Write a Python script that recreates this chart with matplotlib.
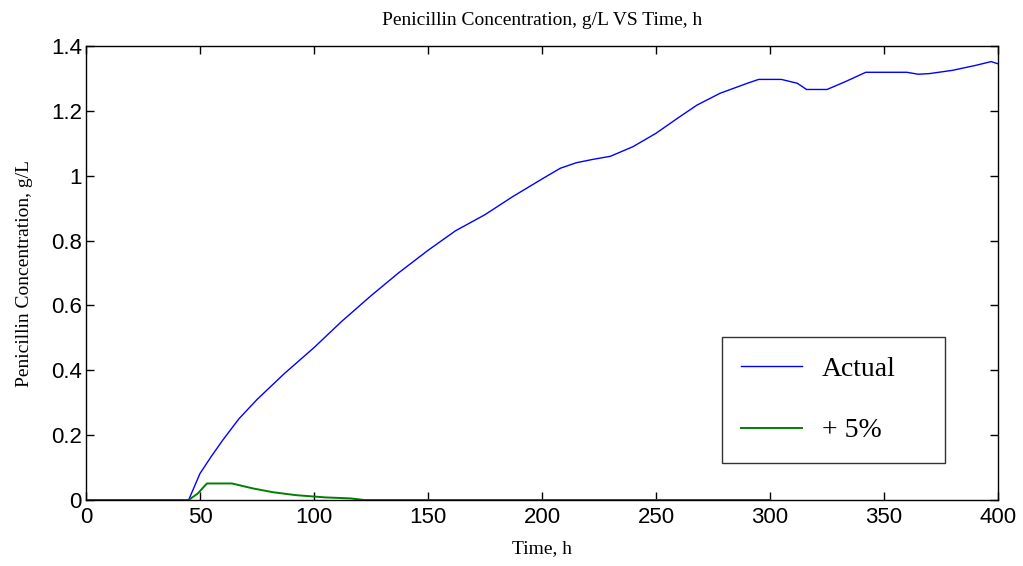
import matplotlib
matplotlib.use("Agg")
import matplotlib.pyplot as plt

# Time (h) and penicillin concentration (g/L)
t_actual = [0, 20, 45, 50, 55, 60, 67, 75, 87, 100, 112, 125, 137, 150, 162, 175, 187,
            200, 208, 215, 222, 230, 240, 250, 260, 268, 278, 290, 295, 305, 312,
            316, 325, 333, 342, 360, 365, 370, 380, 390, 397, 400]
c_actual = [0, 0, 0, 0.082, 0.135, 0.185, 0.25, 0.31, 0.39, 0.47, 0.55, 0.63, 0.70,
            0.77, 0.83, 0.88, 0.935, 0.99, 1.023, 1.04, 1.05, 1.06, 1.09, 1.131, 1.18,
            1.218, 1.254, 1.285, 1.297, 1.297, 1.285, 1.266, 1.266, 1.29, 1.319, 1.319,
            1.313, 1.315, 1.325, 1.34, 1.352, 1.345]

t_plus5 = [0, 45, 49, 53, 64, 73, 82, 92, 105, 116, 122, 200, 300]
c_plus5 = [0, 0, 0.02, 0.051, 0.051, 0.036, 0.024, 0.015, 0.008, 0.005, 0.0, 0.0, 0.0]

yticks = [0, 0.2, 0.4, 0.6, 0.8, 1.0, 1.2, 1.4]
ytick_labels = ["0", "0.2", "0.4", "0.6", "0.8", "1", "1.2", "1.4"]

serif = ["Liberation Serif", "DejaVu Serif"]
sans = ["Liberation Sans", "DejaVu Sans"]
plt.rcParams["font.family"] = serif

fig = plt.figure(figsize=(10.23, 5.66), dpi=100)
ax = fig.add_axes([0.0841, 0.1166, 0.8915, 0.8021])

ax.plot(t_actual, c_actual, color="#0000ff", lw=1.0, label="Actual")
ax.plot(t_plus5, c_plus5, color="#008000", lw=1.4, label="+ 5%")

ax.set_xlim(0, 400)
ax.set_ylim(0, 1.4)
ax.set_xticks(range(0, 401, 50))
ax.set_yticks(yticks)
ax.set_yticklabels(ytick_labels)
ax.tick_params(direction="in", length=6, top=True, right=True, width=1)
ax.tick_params(axis="x", pad=5)
ax.tick_params(axis="y", pad=3)
for lab in ax.get_xticklabels() + ax.get_yticklabels():
    lab.set_family(sans)
    lab.set_fontsize(16)
for s in ax.spines.values():
    s.set_linewidth(1)

ax.set_title("Penicillin Concentration, g/L VS Time, h", fontsize=14, pad=15)
ax.set_xlabel("Time, h", fontsize=14, labelpad=9)
ax.set_ylabel("Penicillin Concentration, g/L", fontsize=14, labelpad=13)

leg = ax.legend(loc="lower left", bbox_to_anchor=(0.697, 0.082, 0.245, 0.27),
                mode="expand", fontsize=20, frameon=True, fancybox=False,
                handlelength=2.2, handletextpad=0.7, labelspacing=1.3,
                borderpad=0.7, borderaxespad=0)
leg.get_frame().set_edgecolor("black")
leg.get_frame().set_linewidth(1)

fig.savefig("out.png", dpi=100)
